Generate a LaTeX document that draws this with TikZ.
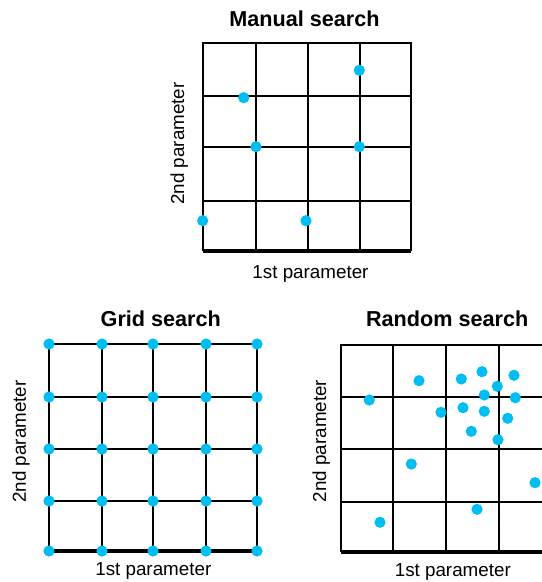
\documentclass[tikz,border=0pt]{standalone}
\usepackage{fontspec}
\setmainfont{Liberation Sans}
\definecolor{ptblue}{HTML}{00BDF2}
\tikzset{
  gline/.style={draw=black, line width=1.35pt},
  gframe/.style={draw=black, line width=1.5pt},
  gbase/.style={draw=black, line width=1.75pt},
  pt/.style={fill=ptblue, draw=none},
  ttl/.style={font=\fontsize{12.3}{14}\selectfont\bfseries, inner sep=0pt, anchor=base},
  xlbl/.style={font=\fontsize{10.7}{12}\selectfont, inner sep=0pt, anchor=base},
  ylbl/.style={font=\fontsize{10.7}{12}\selectfont, inner sep=0pt, anchor=base, rotate=90},
}
\begin{document}
\begin{tikzpicture}[x=0.2mm,y=-0.2mm]
  \useasboundingbox (0,0) rectangle (542,582);
  % manual search
  \node[ttl] (mtitle) at (304.5,26) {Manual search};
  \draw[gline] (256,43) -- (256,251);
  \draw[gline] (308,43) -- (308,251);
  \draw[gline] (360,43) -- (360,251);
  \draw[gline] (203,96) -- (411,96);
  \draw[gline] (203,147) -- (411,147);
  \draw[gline] (203,201) -- (411,201);
  \draw[gframe] (203,251) -- (203,43) -- (411,43) -- (411,251);
  \draw[gbase] (203,251) -- (411,251);
  \fill[pt] (359.3,70.3) circle (5.6);
  \fill[pt] (243.7,97.7) circle (5.6);
  \fill[pt] (256,146.7) circle (5.6);
  \fill[pt] (359.3,146.7) circle (5.6);
  \fill[pt] (202.7,220.7) circle (5.6);
  \fill[pt] (306,220.7) circle (5.6);
  \node[xlbl] (mxlbl) at (310.5,278) {1st parameter};
  \node[ylbl] (mylbl) at (184,143.5) {2nd parameter};
  % grid search
  \node[ttl] (gtitle) at (160.8,326) {Grid search};
  \draw[gline] (102,344) -- (102,551);
  \draw[gline] (153,344) -- (153,551);
  \draw[gline] (206,344) -- (206,551);
  \draw[gline] (49,397) -- (257,397);
  \draw[gline] (49,449) -- (257,449);
  \draw[gline] (49,501) -- (257,501);
  \draw[gframe] (49,551) -- (49,344) -- (257,344) -- (257,551);
  \draw[gbase] (49,551) -- (257,551);
  \foreach \gx in {49,102,153,206,257}
    \foreach \gy in {344,397,449,501,551}
      \fill[pt] (\gx,\gy) circle (5.6);
  \node[xlbl] (gxlbl) at (153.3,575) {1st parameter};
  \node[ylbl] (gylbl) at (26,441.5) {2nd parameter};
  % random search
  \node[ttl] (rtitle) at (447.2,326) {Random search};
  \draw[gline] (393,345) -- (393,552);
  \draw[gline] (446,345) -- (446,552);
  \draw[gline] (499,345) -- (499,552);
  \draw[gline] (341,397) -- (542,397);
  \draw[gline] (341,449) -- (542,449);
  \draw[gline] (341,502) -- (542,502);
  \draw[gframe] (341,552) -- (341,345) -- (542,345);
  \draw[gbase] (341,552) -- (542,552);
  \fill[pt] (419,380.7) circle (5.6);
  \fill[pt] (461.3,379) circle (5.6);
  \fill[pt] (482,371.7) circle (5.6);
  \fill[pt] (514,375.3) circle (5.6);
  \fill[pt] (497.3,386.3) circle (5.6);
  \fill[pt] (484.3,395) circle (5.6);
  \fill[pt] (515.3,397.7) circle (5.6);
  \fill[pt] (369.3,400) circle (5.6);
  \fill[pt] (463,407.7) circle (5.6);
  \fill[pt] (484.3,411.3) circle (5.6);
  \fill[pt] (441,412.3) circle (5.6);
  \fill[pt] (507.7,418.3) circle (5.6);
  \fill[pt] (471.3,431.3) circle (5.6);
  \fill[pt] (498,439.7) circle (5.6);
  \fill[pt] (411.3,464) circle (5.6);
  \fill[pt] (535,482.7) circle (5.6);
  \fill[pt] (477,509.3) circle (5.6);
  \fill[pt] (380,522.3) circle (5.6);
  \node[xlbl] (rxlbl) at (452.8,576) {1st parameter};
  \node[ylbl] (rylbl) at (326,441) {2nd parameter};
\end{tikzpicture}
\end{document}
